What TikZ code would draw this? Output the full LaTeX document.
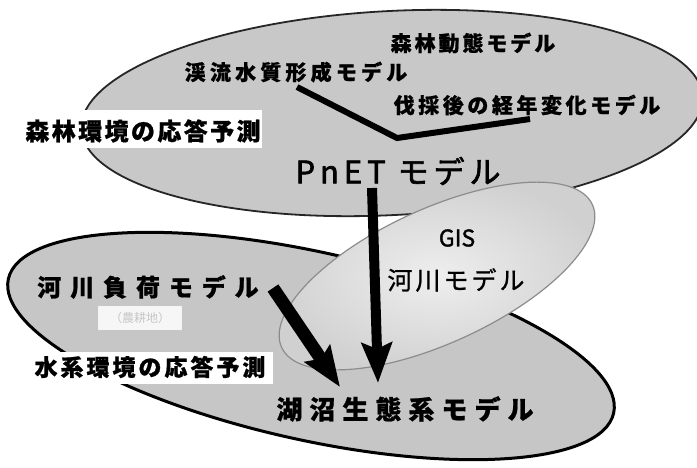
\documentclass[tikz,border=0pt]{standalone}
\usepackage{fontspec}
\usetikzlibrary{arrows.meta}
\newfontfamily\jp{Noto Sans CJK JP}
\definecolor{ellA}{HTML}{C8C8C8}
\definecolor{ellB}{HTML}{C6C6C6}
\definecolor{gisIn}{HTML}{EEEEEE}
\definecolor{gisOut}{HTML}{D0D0D0}
\definecolor{gisLine}{HTML}{8C8C8C}
\tikzset{
  lbl/.style={inner sep=1pt, text=black},
  whitebox/.style={fill=white, draw=none, inner sep=0pt},
  bigarrow/.style={line width=#1, -{Stealth[length=40pt,width=30pt,inset=6pt]}},
  branch/.style={line width=6pt},
}
\begin{document}
\begin{tikzpicture}[x=1pt,y=1pt]
\useasboundingbox (0,0) rectangle (697,-467);
\fill[white] (0,0) rectangle (697,-467);
% forest ellipse
\draw[fill=ellA, draw=black!85, line width=1.8pt, rotate around={3:(392,-113)}]
  (392,-113) ellipse [x radius=311pt, y radius=102pt];
% lake / water ellipse
\draw[fill=ellB, draw=black, line width=3pt, rotate around={-12.5:(311,-346)}]
  (311,-346) ellipse [x radius=310pt, y radius=94pt];
% GIS river ellipse
\shade[inner color=gisIn, outer color=gisOut, rotate around={24.7:(437,-276)}]
  (437,-276) ellipse [x radius=171pt, y radius=67pt];
\draw[draw=gisLine, line width=1.2pt, rotate around={24.7:(437,-276)}]
  (437,-276) ellipse [x radius=171pt, y radius=67pt];

% white label boxes
\node[whitebox, minimum width=240pt, minimum height=38pt] (boxF) at (142,-129) {};
\node[whitebox, minimum width=246pt, minimum height=32pt] (boxW) at (150,-368) {};
\node[fill=gray!7, inner sep=0pt, minimum width=84pt, minimum height=24pt] (boxN) at (140,-318) {};

% texts
\node[lbl, font={\jp\bfseries\fontsize{21}{24}\selectfont\addfontfeatures{LetterSpace=14,FakeBold=0.8}}] (dotai) at (473,-43) {森林動態モデル};
\node[lbl, font={\jp\bfseries\fontsize{21}{24}\selectfont\addfontfeatures{LetterSpace=20,FakeBold=0.8}}] (keiryu) at (296,-72) {渓流水質形成モデル};
\node[lbl, font={\jp\bfseries\fontsize{21}{24}\selectfont\addfontfeatures{LetterSpace=17,FakeBold=0.8}}] (bassai) at (527,-105) {伐採後の経年変化モデル};
\node[lbl, font={\jp\bfseries\fontsize{24}{26}\selectfont\addfontfeatures{LetterSpace=10,FakeBold=0.8}}] (forest) at (143,-131) {森林環境の応答予測};
\node[lbl, font={\jp\fontsize{31}{33}\selectfont\addfontfeatures{LetterSpace=16,FakeBold=2}}] (pnet) at (398,-171) {PnET モデル};
\node[lbl, font={\jp\fontsize{23}{25}\selectfont\addfontfeatures{FakeBold=1.5}}] (gis) at (457,-238) {GIS};
\node[lbl, font={\jp\fontsize{25}{27}\selectfont\addfontfeatures{LetterSpace=12,FakeBold=1}}] (river) at (456,-280) {河川モデル};
\node[lbl, font={\jp\bfseries\fontsize{24}{26}\selectfont\addfontfeatures{LetterSpace=37,FakeBold=0.8}}] (load) at (148,-287) {河川負荷モデル};
\node[lbl, text=gray!45, font={\jp\fontsize{12}{14}\selectfont}] (nouko) at (140,-318) {（農耕地）};
\node[lbl, font={\jp\bfseries\fontsize{23}{25}\selectfont\addfontfeatures{LetterSpace=13,FakeBold=0.8}}] (water) at (150,-367) {水系環境の応答予測};
\node[lbl, font={\jp\bfseries\fontsize{26}{28}\selectfont\addfontfeatures{LetterSpace=27,FakeBold=0.8}}] (lake) at (405,-409) {湖沼生態系モデル};

% connector coordinates
\coordinate (k1) at (297,-87);
\coordinate (junc) at (397,-138);
\coordinate (b1) at (530,-119);
\coordinate (v1) at (372,-188);
\coordinate (v2) at (378,-383);
\coordinate (d1) at (273,-288);
\coordinate (d2) at (340,-387);

\draw[branch] (k1) -- (junc) -- (b1);
\draw[bigarrow=10pt] (v1) -- (v2);
\draw[bigarrow=13pt] (d1) -- (d2);
\end{tikzpicture}
\end{document}
